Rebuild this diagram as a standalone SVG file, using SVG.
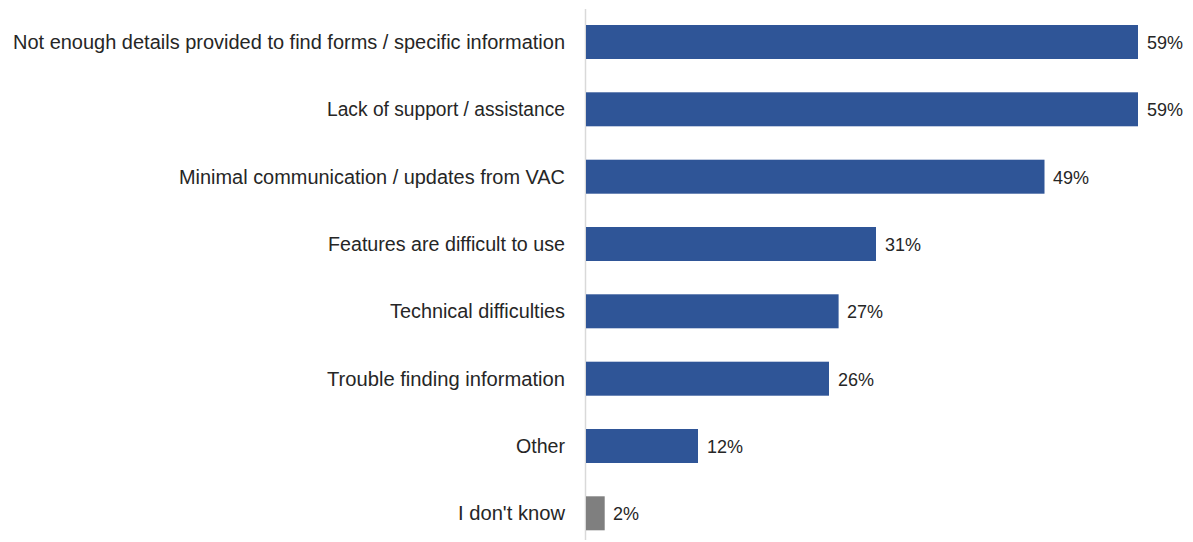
<svg xmlns="http://www.w3.org/2000/svg" width="1193" height="542" viewBox="0 0 1193 542">
<style>
.lbl{font-family:"Liberation Sans",Arial,sans-serif;font-size:19.5px;fill:#262626;text-anchor:end}
.val{font-family:"Liberation Sans",Arial,sans-serif;font-size:18px;fill:#262626}
.bar{fill:#2F5597}
.gray{fill:#7F7F7F}
</style>
<rect width="1193" height="542" fill="#FFFFFF"/>
<g id="axis"><line x1="585.5" y1="9" x2="585.5" y2="540" stroke="#D9D9D9" stroke-width="1.5"/></g>
<g id="row1"><text class="lbl" x="565" y="49" textLength="552" lengthAdjust="spacingAndGlyphs">Not enough details provided to find forms / specific information</text><rect class="bar" x="586" y="25" width="552" height="34"/><text class="val" x="1147" y="49">59%</text></g>
<g id="row2"><text class="lbl" x="565" y="116" textLength="238" lengthAdjust="spacingAndGlyphs">Lack of support / assistance</text><rect class="bar" x="586" y="92.3" width="552" height="34"/><text class="val" x="1147" y="116">59%</text></g>
<g id="row3"><text class="lbl" x="565" y="183.5" textLength="386" lengthAdjust="spacingAndGlyphs">Minimal communication / updates from VAC</text><rect class="bar" x="586" y="159.7" width="458.5" height="34"/><text class="val" x="1053" y="184">49%</text></g>
<g id="row4"><text class="lbl" x="565" y="251" textLength="237" lengthAdjust="spacingAndGlyphs">Features are difficult to use</text><rect class="bar" x="586" y="227" width="290" height="34"/><text class="val" x="885" y="251">31%</text></g>
<g id="row5"><text class="lbl" x="565" y="318" textLength="175" lengthAdjust="spacingAndGlyphs">Technical difficulties</text><rect class="bar" x="586" y="294.3" width="252.6" height="34"/><text class="val" x="847" y="318">27%</text></g>
<g id="row6"><text class="lbl" x="565" y="385.5" textLength="238" lengthAdjust="spacingAndGlyphs">Trouble finding information</text><rect class="bar" x="586" y="361.7" width="243" height="34"/><text class="val" x="838" y="386">26%</text></g>
<g id="row7"><text class="lbl" x="565" y="453" textLength="49" lengthAdjust="spacingAndGlyphs">Other</text><rect class="bar" x="586" y="429" width="112" height="34"/><text class="val" x="707" y="453">12%</text></g>
<g id="row8"><text class="lbl" x="565" y="520" textLength="107" lengthAdjust="spacingAndGlyphs">I don't know</text><rect class="gray" x="586" y="496.3" width="18.7" height="34"/><text class="val" x="613" y="520">2%</text></g>
</svg>
